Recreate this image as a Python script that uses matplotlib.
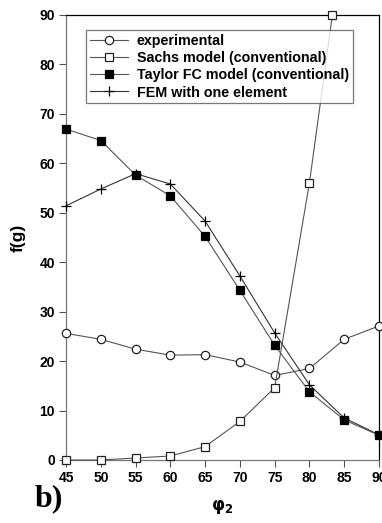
import numpy as np
import matplotlib.pyplot as plt

# ============================================================
# DATA
# ============================================================

phi2 = [45, 50, 55, 60, 65, 70, 75, 80, 85, 90]

experimental = [25.6, 24.4, 22.4, 21.2, 21.3, 19.8, 17.1, 18.5, 24.4, 27.1]

# Sachs curve leaves the frame after 80, last marker sits on the top edge
sachs_phi2 = [45, 50, 55, 60, 65, 70, 75, 80, 83.3]
sachs = [0.0, 0.0, 0.4, 0.8, 2.7, 7.8, 14.6, 56.0, 90.0]

taylor = [66.9, 64.6, 57.6, 53.4, 45.2, 34.3, 23.2, 13.8, 8.1, 5.0]

fem = [51.4, 54.8, 57.9, 55.8, 48.3, 37.2, 25.7, 15.2, 8.5, 5.1]

x_ticks = [45, 50, 55, 60, 65, 70, 75, 80, 85, 90]
y_ticks = [0, 10, 20, 30, 40, 50, 60, 70, 80, 90]

# ============================================================
# FIGURE
# ============================================================

plt.rcParams['font.family'] = ['Liberation Sans', 'DejaVu Sans']

fig = plt.figure(figsize=(3.82, 5.23), dpi=100)

ax = fig.add_axes([0.173, 0.1205, 0.819, 0.851])

line_col = '#555555'

ax.plot(phi2, experimental, color=line_col, lw=0.8,
        marker='o', ms=6, mfc='white', mec='#222222', mew=0.9,
        label='experimental', clip_on=False, zorder=3)

ax.plot(sachs_phi2, sachs, color=line_col, lw=0.8,
        marker='s', ms=6, mfc='white', mec='#222222', mew=0.9,
        label='Sachs model (conventional)', clip_on=False, zorder=3)

ax.plot(phi2, taylor, color=line_col, lw=0.8,
        marker='s', ms=6, mfc='black', mec='black', mew=0.9,
        label='Taylor FC model (conventional)', clip_on=False, zorder=4)

ax.plot(phi2, fem, color='#333333', lw=0.8,
        marker='+', ms=7, mec='black', mew=0.9,
        label='FEM with one element', clip_on=False, zorder=3)

# ------------------------------------------------------------
# AXES
# ------------------------------------------------------------

ax.set_xlim(45, 90)
ax.set_ylim(0, 90)

ax.set_xticks(x_ticks)
ax.set_yticks(y_ticks)

ax.tick_params(direction='out', length=5, width=0.8, color='#555555',
               labelsize=10, pad=3)

for lab in ax.get_xticklabels() + ax.get_yticklabels():
    lab.set_fontweight('bold')

ax.spines['left'].set_color('#777777')
ax.spines['bottom'].set_color('#777777')
ax.spines['top'].set_color('black')
ax.spines['right'].set_color('black')

for sp in ax.spines.values():
    sp.set_linewidth(0.9)

ax.set_ylabel('f(g)', fontsize=12.5, fontweight='bold', labelpad=10)
ax.set_xlabel(r'$\mathbf{\varphi_2}$', fontsize=12, labelpad=9)

leg = ax.legend(loc='upper left', bbox_to_anchor=(0.064, 0.965),
                prop={'weight': 'bold', 'size': 10.3},
                frameon=True, fancybox=False, borderpad=0.25,
                handlelength=2.7, handletextpad=0.6, labelspacing=0.22,
                borderaxespad=0)
leg.get_frame().set_edgecolor('#555555')
leg.get_frame().set_linewidth(0.9)

fig.text(0.09, 0.032, 'b)', fontsize=23, fontweight='bold',
         family='Liberation Serif')

plt.savefig('out.png', dpi=100)
